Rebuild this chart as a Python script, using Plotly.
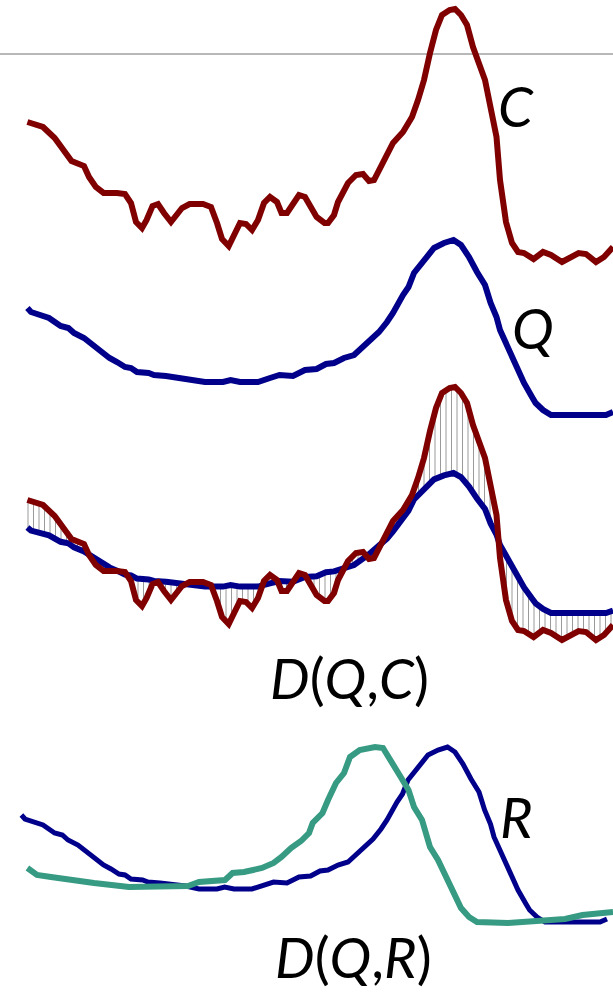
import numpy as np
import plotly.graph_objects as go

# ---- data ----
C_x = [27.4, 43, 54.7, 71.5, 84, 89, 95.8, 103.6, 117, 125, 131, 136, 142, 146.6, 152.5, 158, 164, 171, 182,
       189.6, 203, 211, 217, 222, 228.7, 234.6, 240, 246, 252, 258, 264, 270, 277, 281.5, 287, 293, 299, 305,
       311, 316.6, 324.5, 328, 334, 338, 348, 356, 363, 369, 374, 381, 387, 393, 403, 412, 418, 424, 430, 436,
       442, 449.6, 455, 461, 467, 473, 485, 490.6, 496.5, 500, 506, 512, 518, 524, 533.6, 543, 551, 562, 571,
       578.6, 586, 596, 604, 613]
C_val = [140, 135, 124, 101, 96, 85, 75, 69, 69, 68, 59, 40, 34, 42, 56, 58, 49, 40, 54,
         58, 58, 55, 39, 23, 16, 27, 39, 38, 32, 42, 59, 65, 60, 49, 49, 58, 67, 65,
         54, 45, 39, 39, 47, 60, 79, 87, 88, 81, 82, 95, 109, 119, 130, 145, 162, 182, 209, 232,
         247, 252, 253, 247, 237, 215, 182, 155, 125, 82, 40, 19, 10, 9, 3, 10, 7, 0, 4,
         9, 8, 0, 5, 15]

Q_x = [27.4, 31, 49, 60.6, 68.4, 74, 84, 96, 103.6, 109.5, 117, 125, 131, 137, 148.6, 154, 166, 174, 184,
       191.6, 205, 223, 230.6, 240, 258, 270, 279.5, 293, 305, 316.6, 326, 334, 344, 354, 367.5, 379, 387,
       393, 403, 408.5, 414, 422, 434, 444, 453.5, 461, 469, 477, 485, 490.6, 496.5, 500, 508, 518, 524,
       532, 535.6, 543, 551, 606, 613]
Q_val = [107, 103, 97, 89, 87, 82, 77, 67, 62, 57, 53, 48, 47, 43, 42, 40, 39, 38, 37,
         36, 33, 33, 35, 33, 33, 37, 40, 39, 45, 46, 51, 52, 57, 60, 72, 83, 93,
         102, 120, 128, 142, 152, 167, 172, 175, 170, 158, 143, 130, 112, 98, 85, 67, 43, 32,
         18, 12, 5, 0, 0, 3]

R_x = [27.4, 37, 51, 70, 94, 129, 164, 188, 199, 225, 232.6, 244, 262, 273.6, 281.5, 291, 301, 309, 312.7,
       322.5, 328, 336, 344, 350, 359.7, 375, 383, 391, 400.7, 408.5, 414, 422, 430, 438, 447.6, 455, 461,
       469, 477, 508, 539.5, 565, 582.5, 613]
R_val = [55, 48, 46, 43, 40, 36, 36, 37, 41, 43, 50, 51, 55, 60, 66, 75, 82, 90, 100,
         110, 123, 140, 150, 166, 173, 176, 175, 163, 146, 133, 116, 103, 76, 63, 43, 26, 15,
         6, 1, 0, 3, 4, 8, 11]

labels = ["<i>C</i>", "<i>Q</i>", "<i>D</i>(<i>Q</i>,<i>C</i>)", "<i>R</i>", "<i>D</i>(<i>Q</i>,<i>R</i>)"]

# ---- layout constants ----
W, H = 613, 992
MAROON = "#800000"
NAVY = "#00008b"
TEAL = "#379a82"

P1_C = 730
P2_Q = 577
P3_C = 352
P3_Q = 379
P3_QSCALE = 0.8
P4_Q = 70
P4_QSHIFT = -6
P4_R = 69

def lift(base, vals, scale=1.0):
    return [base + scale * v for v in vals]

fig = go.Figure()

# panel 1: C
fig.add_trace(go.Scatter(x=C_x, y=lift(P1_C, C_val), mode="lines",
                         line=dict(color=MAROON, width=6), hoverinfo="skip"))
# panel 2: Q
fig.add_trace(go.Scatter(x=Q_x, y=lift(P2_Q, Q_val), mode="lines",
                         line=dict(color=NAVY, width=6), hoverinfo="skip"))

# panel 3: hatch lines between C and Q
hx = np.arange(28, W, 5.5)
cy = P3_C + np.interp(hx, C_x, C_val)
qy = P3_Q + P3_QSCALE * np.interp(hx, Q_x, Q_val)
xs, ys = [], []
for x0, a, b in zip(hx, cy, qy):
    xs += [x0, x0, None]
    ys += [a, b, None]
fig.add_trace(go.Scatter(x=xs, y=ys, mode="lines",
                         line=dict(color="#9a9a9a", width=1), hoverinfo="skip"))
fig.add_trace(go.Scatter(x=Q_x, y=lift(P3_Q, Q_val, P3_QSCALE), mode="lines",
                         line=dict(color=NAVY, width=6), hoverinfo="skip"))
fig.add_trace(go.Scatter(x=C_x, y=lift(P3_C, C_val), mode="lines",
                         line=dict(color=MAROON, width=6), hoverinfo="skip"))

# panel 4: Q and R
fig.add_trace(go.Scatter(x=[x + P4_QSHIFT for x in Q_x], y=lift(P4_Q, Q_val), mode="lines",
                         line=dict(color=NAVY, width=5), hoverinfo="skip"))
fig.add_trace(go.Scatter(x=R_x, y=lift(P4_R, R_val), mode="lines",
                         line=dict(color=TEAL, width=6), hoverinfo="skip"))

# grey rule near the top
fig.add_shape(type="line", x0=0, x1=W, y0=938, y1=938, xref="x", yref="y",
              line=dict(color="#a0a0a0", width=1.5), layer="below")

FONT = dict(family="Lato, 'Open Sans', sans-serif", size=56, color="black")
pos = [(516, 886.5), (533, 665), (349, 315), (516, 176), (353, 36)]
for t, (px, py) in zip(labels, pos):
    fig.add_annotation(x=px, y=py, xref="x", yref="y", text=t, showarrow=False,
                       xanchor="center", yanchor="middle", font=FONT)

fig.update_layout(
    width=W, height=H, autosize=False,
    margin=dict(l=0, r=0, t=0, b=0, pad=0),
    paper_bgcolor="white", plot_bgcolor="white",
    showlegend=False,
    xaxis=dict(range=[0, W], visible=False, fixedrange=True),
    yaxis=dict(range=[0, H], visible=False, fixedrange=True),
)

fig.write_html("out.html")
